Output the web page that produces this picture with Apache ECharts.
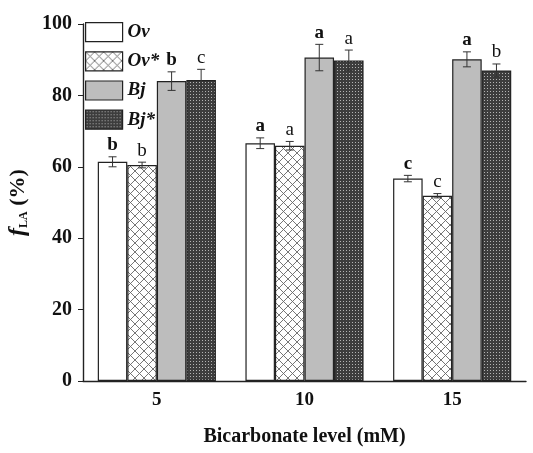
<!DOCTYPE html>
<html>
<head>
<meta charset="utf-8">
<script src="https://cdn.jsdelivr.net/npm/echarts@6/dist/echarts.min.js"></script>
<style>html,body{margin:0;padding:0;background:#fff}#c{width:533px;height:453px}</style>
</head>
<body>
<div id="c"></div>
<script>
const categories = ['5', '10', '15'];
const seriesNames = ['Ov', 'Ov*', 'Bj', 'Bj*'];
const ovValues = [61.4, 66.6, 56.7];
const ovErr = [1.4, 1.5, 0.9];
const ovStarValues = [60.5, 65.9, 51.9];
const ovStarErr = [0.8, 1.2, 0.6];
const bjValues = [84.0, 90.6, 90.1];
const bjErr = [2.6, 3.7, 2.1];
const bjStarValues = [84.3, 89.8, 87.0];
const bjStarErr = [3.0, 2.9, 1.8];
const ovLetters = ['b', 'a', 'c'];
const ovStarLetters = ['b', 'a', 'c'];
const bjLetters = ['b', 'a', 'a'];
const bjStarLetters = ['c', 'a', 'b'];
const yTicks = [0, 20, 40, 60, 80, 100];

function makePattern(kind) {
  const cv = document.createElement('canvas');
  if (kind === 'cross') {
    cv.width = 9; cv.height = 9;
    const g = cv.getContext('2d');
    g.fillStyle = '#fff'; g.fillRect(0, 0, 9, 9);
    g.strokeStyle = '#666'; g.lineWidth = 0.9;
    g.beginPath();
    g.moveTo(0, 0); g.lineTo(9, 9);
    g.moveTo(9, 0); g.lineTo(0, 9);
    g.stroke();
  } else {
    cv.width = 3; cv.height = 3;
    const g = cv.getContext('2d');
    g.fillStyle = '#3d3d3d'; g.fillRect(0, 0, 3, 3);
    g.fillStyle = '#b4b4b4'; g.fillRect(1, 1, 1, 1);
  }
  return { image: cv, repeat: 'repeat' };
}

const fills = ['#ffffff', makePattern('cross'), '#bdbdbd', makePattern('dots')];
const valuesList = [ovValues, ovStarValues, bjValues, bjStarValues];
const errList = [ovErr, ovStarErr, bjErr, bjStarErr];
const letterList = [ovLetters, ovStarLetters, bjLetters, bjStarLetters];
const boldList = [true, false, true, false];

const errData = [];
for (let s = 0; s < 4; s++) {
  for (let c = 0; c < categories.length; c++) {
    errData.push([c, valuesList[s][c], errList[s][c], s, letterList[s][c]]);
  }
}

const barSeries = seriesNames.map((n, i) => ({
  name: n,
  type: 'bar',
  data: valuesList[i],
  barGap: '0%',
  barCategoryGap: '20%',
  itemStyle: { color: fills[i], borderColor: '#222', borderWidth: 1.2 },
  emphasis: { disabled: true }
}));

const errSeries = {
  type: 'custom',
  data: errData,
  z: 10,
  silent: true,
  renderItem: function (params, api) {
    const c = api.value(0), v = api.value(1), e = api.value(2), s = api.value(3);
    const letter = errData[params.dataIndex][4];
    const band = api.size([1, 0])[0];
    const bw = band * 0.2;
    const center = api.coord([c, v]);
    const x = center[0] + (s - 1.5) * bw;
    const top = api.coord([c, v + e])[1];
    const bot = api.coord([c, v - e])[1];
    const cap = 4;
    const st = { stroke: '#333', lineWidth: 1 };
    return {
      type: 'group',
      children: [
        { type: 'line', shape: { x1: x, y1: top, x2: x, y2: bot }, style: st },
        { type: 'line', shape: { x1: x - cap, y1: top, x2: x + cap, y2: top }, style: st },
        { type: 'line', shape: { x1: x - cap, y1: bot, x2: x + cap, y2: bot }, style: st },
        { type: 'text', style: {
            text: letter, x: x, y: top - 2, align: 'center', verticalAlign: 'bottom',
            font: (boldList[s] ? 'bold ' : '') + '19px "Liberation Serif"', fill: '#111'
          } }
      ]
    };
  }
};

const chart = echarts.init(document.getElementById('c'));
chart.setOption({
  animation: false,
  backgroundColor: '#fff',
  grid: { left: 83, right: 7, top: 24, bottom: 72, containLabel: false, outerBoundsMode: 'none' },
  legend: {
    orient: 'vertical',
    left: 85, top: 22,
    padding: 0,
    itemWidth: 37, itemHeight: 19, itemGap: 9,
    icon: 'rect',
    data: seriesNames,
    selectedMode: false,
    textStyle: { fontFamily: 'Liberation Serif', fontWeight: 'bold', fontStyle: 'italic', fontSize: 19, color: '#111' },
    itemStyle: { borderColor: '#222', borderWidth: 1.2 }
  },
  xAxis: {
    type: 'category',
    data: categories,
    axisLine: { lineStyle: { color: '#222', width: 1.4 } },
    axisTick: { alignWithLabel: true, length: 5, inside: false, interval: 0, lineStyle: { color: '#222' } },
    axisLabel: { fontFamily: 'Liberation Serif', fontWeight: 'bold', fontSize: 19, color: '#111', margin: 10 },
    name: 'Bicarbonate level (mM)',
    nameLocation: 'middle',
    nameGap: 46,
    nameTextStyle: { fontFamily: 'Liberation Serif', fontWeight: 'bold', fontSize: 20, color: '#111' }
  },
  yAxis: {
    type: 'value',
    min: 0, max: 100, interval: 20,
    splitLine: { show: false },
    axisLine: { show: true, lineStyle: { color: '#222', width: 1.4 } },
    axisTick: { show: true, length: 5, lineStyle: { color: '#222' } },
    axisLabel: { fontFamily: 'Liberation Serif', fontWeight: 'bold', fontSize: 20, color: '#111', margin: 11,
      formatter: v => yTicks.indexOf(v) >= 0 ? String(v) : '' },
    name: '{f|f}{sub|LA}{t| (%)}',
    nameLocation: 'middle',
    nameRotate: 90,
    nameGap: 53,
    nameTextStyle: {
      rich: {
        f: { fontFamily: 'Liberation Serif', fontStyle: 'italic', fontWeight: 'bold', fontSize: 24, color: '#111' },
        sub: { fontFamily: 'Liberation Serif', fontWeight: 'bold', fontSize: 12, color: '#111', verticalAlign: 'bottom', padding: [9, 0, 0, 0] },
        t: { fontFamily: 'Liberation Serif', fontWeight: 'bold', fontSize: 22, color: '#111' }
      }
    }
  },
  series: barSeries.concat([errSeries])
});
</script>
</body>
</html>
